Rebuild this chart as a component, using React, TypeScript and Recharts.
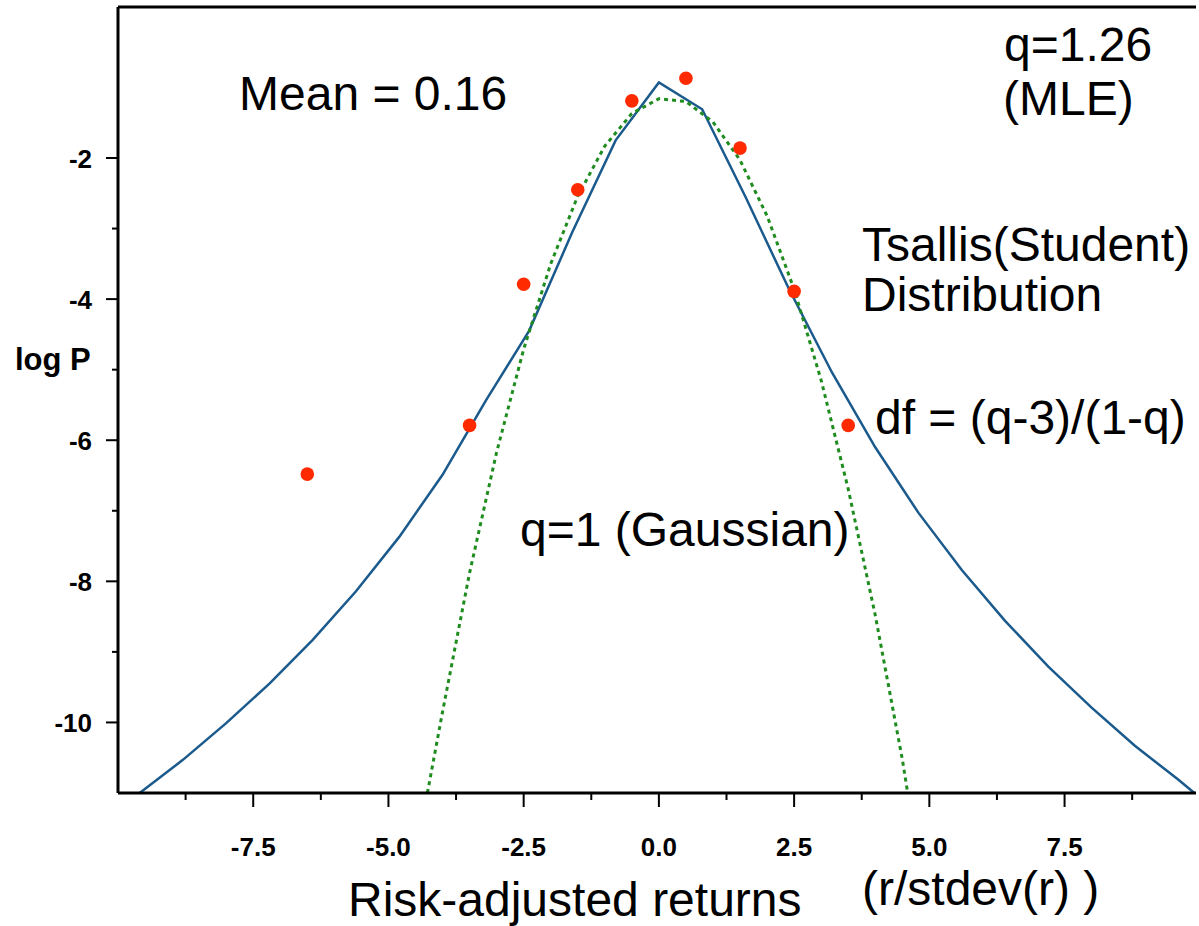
import React from 'react';
import { ComposedChart, Line, Scatter, XAxis, YAxis, ReferenceLine } from 'recharts';

// Tsallis (Student) fit
const tsallisX = [-9.6, -8.8, -8.0, -7.2, -6.4, -5.6, -4.8, -4.0, -3.2, -2.4, -1.6, -0.8, 0, 0.8, 1.6, 2.4, 3.2, 4.0, 4.8, 5.6, 6.4, 7.2, 8.0, 8.8, 9.6, 9.9];
const tsallisLogP = [-11.0, -10.53, -10.01, -9.45, -8.83, -8.14, -7.37, -6.49, -5.44, -4.45, -3.05, -1.75, -0.93, -1.31, -2.55, -3.85, -5.04, -6.1, -7.03, -7.84, -8.56, -9.21, -9.79, -10.33, -10.81, -11.0];

// Gaussian (q=1) fit
const gaussX = [-4.28, -4.0, -3.5, -3.0, -2.5, -2.0, -1.5, -1.0, -0.5, 0, 0.5, 1.0, 1.5, 2.0, 2.5, 3.0, 3.5, 4.0, 4.5, 4.6];
const gaussLogP = [-11.0, -9.85, -7.88, -6.17, -4.71, -3.5, -2.54, -1.83, -1.37, -1.16, -1.2, -1.49, -2.03, -2.82, -3.86, -5.15, -6.69, -8.48, -10.52, -11.0];

// Observed points
const dotX = [-6.5, -3.5, -2.5, -1.5, -0.5, 0.5, 1.5, 2.5, 3.5];
const dotLogP = [-6.48, -5.79, -3.79, -2.45, -1.19, -0.87, -1.86, -3.89, -5.79];

const xMajorTicks = [-7.5, -5, -2.5, 0, 2.5, 5, 7.5];
const xMinorTicks = [-8.75, -6.25, -3.75, -1.25, 1.25, 3.75, 6.25, 8.75];
const yMajorTicks = [-10, -8, -6, -4, -2];
const yMinorTicks = [-9, -7, -5, -3];

const X_DOMAIN: [number, number] = [-10, 9.93];
const Y_DOMAIN: [number, number] = [-11, 0.14];

const tsallisData = tsallisX.map((x, i) => ({ x, y: tsallisLogP[i] }));
const gaussData = gaussX.map((x, i) => ({ x, y: gaussLogP[i] }));
const dotData = dotX.map((x, i) => ({ x, y: dotLogP[i] }));

const FONT = '"Liberation Sans", Arial, Helvetica, sans-serif';

const XTick = (props: any) => {
  const { x, y, payload } = props;
  const major = xMajorTicks.includes(payload.value);
  return (
    <g>
      <line x1={x} x2={x} y1={y} y2={y + (major ? 14 : 7)} stroke="#000" strokeWidth={2} />
      {major && (
        <text x={x} y={y + 63} textAnchor="middle" fontFamily={FONT} fontWeight="bold" fontSize={26} fill="#000">
          {Number(payload.value).toFixed(1)}
        </text>
      )}
    </g>
  );
};

const YTick = (props: any) => {
  const { x, y, payload } = props;
  const major = yMajorTicks.includes(payload.value);
  return (
    <g>
      <line x1={x - (major ? 12 : 6)} x2={x} y1={y} y2={y} stroke="#000" strokeWidth={2} />
      {major && (
        <text x={x - 26} y={y + 10} textAnchor="end" fontFamily={FONT} fontWeight="bold" fontSize={26} fill="#000">
          {String(payload.value)}
        </text>
      )}
    </g>
  );
};

const Dot = (p: any) => <circle cx={p.cx} cy={p.cy} r={6.8} fill="#ff2a00" />;

const annotations = [
  { text: 'Mean = 0.16', x: 239, y: 110 },
  { text: 'q=1.26', x: 1004, y: 61 },
  { text: '(MLE)', x: 1003, y: 115 },
  { text: 'Tsallis(Student)', x: 862, y: 261 },
  { text: 'Distribution', x: 862, y: 311 },
  { text: 'df = (q-3)/(1-q)', x: 875, y: 434 },
  { text: 'q=1 (Gaussian)', x: 520, y: 546 },
  { text: 'Risk-adjusted returns', x: 348, y: 916 },
  { text: '(r/stdev(r) )', x: 862, y: 905 },
];

export default function App() {
  return (
    <div style={{ position: 'absolute', left: 0, top: 0, width: 1199, height: 926, background: '#fff', overflow: 'hidden' }}>
      <ComposedChart width={1199} height={926} margin={{ top: 7, right: 3, bottom: 0, left: 0 }}>
        <XAxis
          type="number"
          dataKey="x"
          domain={X_DOMAIN}
          allowDataOverflow
          ticks={[...xMinorTicks, ...xMajorTicks].sort((a, b) => a - b)}
          interval={0}
          tick={<XTick />}
          tickLine={false}
          tickSize={0}
          tickMargin={0}
          axisLine={{ stroke: '#000', strokeWidth: 3 }}
          height={133}
        />
        <YAxis
          type="number"
          dataKey="y"
          domain={Y_DOMAIN}
          allowDataOverflow
          ticks={[...yMinorTicks, ...yMajorTicks].sort((a, b) => a - b)}
          interval={0}
          tick={<YTick />}
          tickLine={false}
          tickSize={0}
          tickMargin={0}
          axisLine={{ stroke: '#000', strokeWidth: 3 }}
          width={118}
        />
        <ReferenceLine y={Y_DOMAIN[1]} stroke="#000" strokeWidth={3} />
        <Line data={tsallisData} dataKey="y" type="linear" stroke="#1b5a8c" strokeWidth={2.5} dot={false} isAnimationActive={false} />
        <Line data={gaussData} dataKey="y" type="linear" stroke="#1e8c1e" strokeWidth={3} strokeDasharray="4 4" dot={false} isAnimationActive={false} />
        <Scatter data={dotData} dataKey="y" shape={<Dot />} isAnimationActive={false} />
      </ComposedChart>
      <svg width={1199} height={926} style={{ position: 'absolute', left: 0, top: 0, pointerEvents: 'none' }}>
        {annotations.map((a) => (
          <text key={a.text} x={a.x} y={a.y} fontFamily={FONT} fontSize={48} fill="#000">
            {a.text}
          </text>
        ))}
        <text x={15} y={370} fontFamily={FONT} fontWeight="bold" fontSize={31} fill="#000">log P</text>
      </svg>
    </div>
  );
}
